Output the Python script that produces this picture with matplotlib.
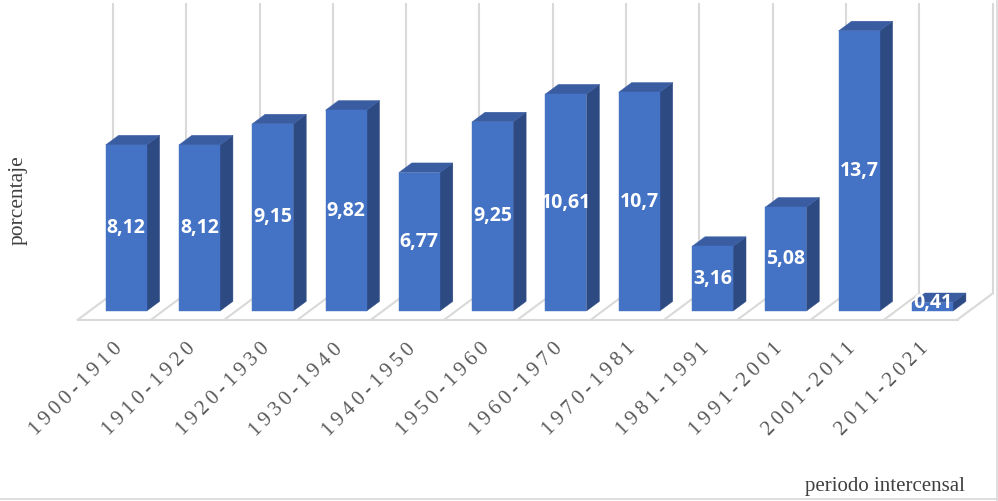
#!/usr/bin/env python3
"""Tasa intercensal (porcentaje) por periodo, estilo columna 3D."""

import matplotlib
matplotlib.use("Agg")
import matplotlib.pyplot as plt
from matplotlib.patches import Polygon

periods = [
    "1900-1910", "1910-1920", "1920-1930", "1930-1940", "1940-1950", "1950-1960",
    "1960-1970", "1970-1981", "1981-1991", "1991-2001", "2001-2011", "2011-2021",
]
values = [8.12, 8.12, 9.15, 9.82, 6.77, 9.25, 10.61, 10.7, 3.16, 5.08, 13.7, 0.41]

W, H = 998, 501
PX_CAT = 73.3      # pixels per category
PX_VAL = 20.45     # pixels per unit of value
X0, Y0 = 89.5, 311.0   # pixel position of (cat 0, value 0) on the bar front plane
DEPTH_U = 35.0 / PX_CAT   # oblique shift per unit of depth, in data units
DEPTH_V = 26.0 / PX_VAL

FLOOR_FRONT, FLOOR_BACK = -0.33, 0.67
BAR_DEPTH = 0.37
BAR_W = 0.56
WALL_TOP = 14.2

FRONT = "#4472C4"
TOP = "#3A5DA2"
SIDE = "#2D4A83"
GRID = "#D9D9D9"
SERIF = ["Liberation Serif", "DejaVu Serif"]


def pt(u, v, z=0.0):
    return (u + z * DEPTH_U, v + z * DEPTH_V)


fig = plt.figure(figsize=(W / 100, H / 100), dpi=100)
ax = fig.add_axes([0, 0, 1, 1])
ax.set_xlim(-X0 / PX_CAT, (W - X0) / PX_CAT)
ax.set_ylim((Y0 - H) / PX_VAL, Y0 / PX_VAL)
ax.axis("off")

n = len(values)

# back wall verticals
for k in range(n + 1):
    x0, y0 = pt(k, 0, FLOOR_BACK)
    x1, y1 = pt(k, WALL_TOP, FLOOR_BACK)
    ax.plot([x0, x1], [y0, y1], color=GRID, lw=1.5, zorder=1, solid_capstyle="butt")

# floor
fx0, fy0 = pt(0, 0, FLOOR_FRONT)
fx1, fy1 = pt(n, 0, FLOOR_FRONT)
ax.plot([fx0, fx1], [fy0, fy1], color=GRID, lw=1.5, zorder=1)
for k in range(n + 1):
    a = pt(k, 0, FLOOR_FRONT)
    b = pt(k, 0, FLOOR_BACK)
    ax.plot([a[0], b[0]], [a[1], b[1]], color=GRID, lw=1.5, zorder=1)

# bars
for i, v in enumerate(values):
    l = i + 0.5 - BAR_W / 2
    r = i + 0.5 + BAR_W / 2
    front = [pt(l, 0), pt(r, 0), pt(r, v), pt(l, v)]
    side = [pt(r, 0), pt(r, 0, BAR_DEPTH), pt(r, v, BAR_DEPTH), pt(r, v)]
    top = [pt(l, v), pt(r, v), pt(r, v, BAR_DEPTH), pt(l, v, BAR_DEPTH)]
    for poly, col in ((side, SIDE), (top, TOP), (front, FRONT)):
        ax.add_patch(Polygon(poly, closed=True, facecolor=col, edgecolor=col,
                             lw=0.3, zorder=3))
    ly = max(v / 2, 0.4)
    ax.text(i + 0.5, ly, f"{v:g}".replace(".", ","), ha="center", va="center",
            color="white", fontsize=14, fontweight="bold", family="Open Sans",
            zorder=5)

# category labels (letter-spaced with thin spaces, rotated)
for i, lab in enumerate(periods):
    x, y = pt(i + 0.5, 0, FLOOR_FRONT)
    ax.text(x - 0.02, y - 20 / PX_VAL, "\u2009".join(lab), rotation=45,
            rotation_mode="anchor", ha="right", va="top", color="#595959",
            fontsize=15, family=SERIF, zorder=5)

ax.text(-71 / PX_CAT, (Y0 - 200) / PX_VAL, "porcentaje", rotation=90,
        ha="center", va="center", color="#404040", fontsize=15.5,
        family=SERIF)
ax.text((965 - X0) / PX_CAT, (Y0 - 487) / PX_VAL, "periodo intercensal",
        ha="right", va="center", color="#404040", fontsize=15,
        family=SERIF)

# chart area border (right and bottom)
fig.add_artist(plt.Line2D([(W - 1.5) / W] * 2, [0, 1], color=GRID, lw=1.2))
fig.add_artist(plt.Line2D([0, 1], [2.5 / H] * 2, color=GRID, lw=1.2))

fig.savefig("out.png", dpi=100)
